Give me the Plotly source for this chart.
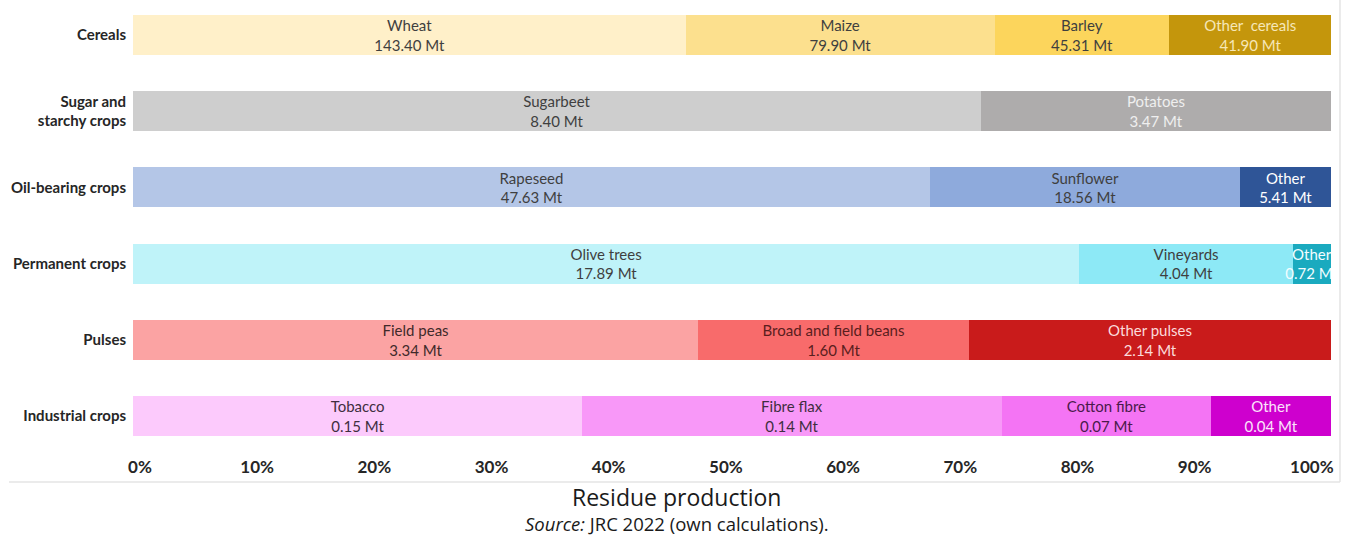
import plotly.graph_objects as go

# Crop groups, top to bottom
categories = [
    "Cereals",
    "Sugar and<br>starchy crops",
    "Oil-bearing crops",
    "Permanent crops",
    "Pulses",
    "Industrial crops",
]

# Residue production per crop (Mt), one list per group
cereal_names = ["Wheat", "Maize", "Barley", "Other  cereals"]
cereal_values = [143.40, 79.90, 45.31, 41.90]

sugar_names = ["Sugarbeet", "Potatoes"]
sugar_values = [8.40, 3.47]

oil_names = ["Rapeseed", "Sunflower", "Other"]
oil_values = [47.63, 18.56, 5.41]

permanent_names = ["Olive trees", "Vineyards", "Other"]
permanent_values = [17.89, 4.04, 0.72]

pulse_names = ["Field peas", "Broad and field beans", "Other pulses"]
pulse_values = [3.34, 1.60, 2.14]

industrial_names = ["Tobacco", "Fibre flax", "Cotton fibre", "Other"]
industrial_values = [0.15, 0.14, 0.07, 0.04]

# Percentage scale labels
pct_ticks = list(range(0, 101, 10))
pct_labels = [f"<b>{v}%</b>" for v in pct_ticks]

# Segment fill colours and label colours per group
cereal_colors = ["#FFF0C9", "#FCE08E", "#FCD55C", "#C4960C"]
cereal_text = ["#3F3F3F", "#3F3F3F", "#3F3F3F", "#F6E7B8"]
sugar_colors = ["#CECECE", "#AEACAC"]
sugar_text = ["#3F3F3F", "#EFEFEF"]
oil_colors = ["#B4C6E7", "#8EAADC", "#2F5597"]
oil_text = ["#3F3F3F", "#3F3F3F", "#FFFFFF"]
permanent_colors = ["#BFF3F9", "#8DE9F6", "#1AAABF"]
permanent_text = ["#3F3F3F", "#3F3F3F", "#F2FDFF"]
pulse_colors = ["#FBA3A3", "#F86B6B", "#C91B1B"]
pulse_text = ["#3F2A2A", "#5A1E1E", "#FBDADA"]
industrial_colors = ["#FCCAFC", "#F898F8", "#F474F4", "#CE00CE"]
industrial_text = ["#3F2E3F", "#3F2E3F", "#4A1A4A", "#FBE3FB"]

groups = [
    (cereal_names, cereal_values, cereal_colors, cereal_text),
    (sugar_names, sugar_values, sugar_colors, sugar_text),
    (oil_names, oil_values, oil_colors, oil_text),
    (permanent_names, permanent_values, permanent_colors, permanent_text),
    (pulse_names, pulse_values, pulse_colors, pulse_text),
    (industrial_names, industrial_values, industrial_colors, industrial_text),
]

FONT = "Lato, 'Open Sans', sans-serif"

fig = go.Figure()
for cat, (names, values, colors, tcolors) in zip(categories, groups):
    for name, val, col, tcol in zip(names, values, colors, tcolors):
        fig.add_trace(go.Bar(
            y=[cat],
            x=[val],
            orientation="h",
            marker=dict(color=col, line=dict(width=0)),
            text=[f"{name}<br>{val:.2f} Mt"],
            textposition="inside",
            insidetextanchor="middle",
            textangle=0,
            textfont=dict(family=FONT, size=15, color=tcol),
            constraintext="none",
            cliponaxis=True,
            showlegend=False,
            hoverinfo="skip",
        ))

# Invisible anchor point for the separate percentage scale subplot
fig.add_trace(go.Scatter(
    x=[0], y=[0], xaxis="x2", yaxis="y2", mode="markers",
    marker=dict(opacity=0, size=1), showlegend=False, hoverinfo="skip",
))

fig.update_layout(
    width=1346,
    height=542,
    barmode="stack",
    barnorm="percent",
    bargap=0.475,
    plot_bgcolor="rgba(0,0,0,0)",
    paper_bgcolor="white",
    margin=dict(l=133, r=15, t=5, b=87, autoexpand=False),
    uniformtext=dict(minsize=13, mode="show"),
    font=dict(family=FONT, color="#262626"),
    xaxis=dict(
        range=[0, 100],
        showticklabels=False,
        showgrid=False,
        zeroline=False,
        showline=False,
        ticks="",
        fixedrange=True,
    ),
    # Percentage scale drawn under the bars
    xaxis2=dict(
        domain=[0.0058, 0.984],
        anchor="y2",
        side="bottom",
        range=[0, 100],
        tickmode="array",
        tickvals=pct_ticks,
        ticktext=pct_labels,
        tickfont=dict(family=FONT, size=17, color="#262626"),
        ticklabeloverflow="allow",
        automargin=False,
        showgrid=False,
        zeroline=False,
        showline=False,
        ticks="",
        fixedrange=True,
    ),
    yaxis2=dict(
        domain=[0, 0.01],
        anchor="x2",
        visible=False,
        fixedrange=True,
    ),
    yaxis=dict(
        domain=[0, 1],
        categoryorder="array",
        categoryarray=categories,
        range=[5.512, -0.394],
        autorange=False,
        tickfont=dict(family=FONT, size=15, color="#262626"),
        ticktext=[f"<b>{c}</b>" for c in categories],
        tickvals=categories,
        showgrid=False,
        zeroline=False,
        showline=False,
        ticks="",
        ticklabelstandoff=6,
        automargin=False,
        fixedrange=True,
    ),
)

# Chart frame lines
fig.add_shape(type="line", xref="paper", yref="paper",
              x0=-0.1035, x1=1.0075, y0=-0.06, y1=-0.06,
              line=dict(color="#E4E4E4", width=1.5))
fig.add_shape(type="line", xref="paper", yref="paper",
              x0=1.0075, x1=1.0075, y0=-0.06, y1=1.02,
              line=dict(color="#E4E4E4", width=1.5))

# Title and source below the chart
fig.add_annotation(
    text="Residue production",
    xref="paper", yref="paper", x=0.454, y=-0.053,
    xanchor="center", yanchor="top", showarrow=False,
    font=dict(family="'Open Sans', sans-serif", size=23, color="#1A1A1A"),
)
fig.add_annotation(
    text="<i>Source:</i> JRC 2022 (own calculations).",
    xref="paper", yref="paper", x=0.454, y=-0.121,
    xanchor="center", yanchor="top", showarrow=False,
    font=dict(family="'Open Sans', sans-serif", size=18.5, color="#1A1A1A"),
)

fig.write_html("out.html")
